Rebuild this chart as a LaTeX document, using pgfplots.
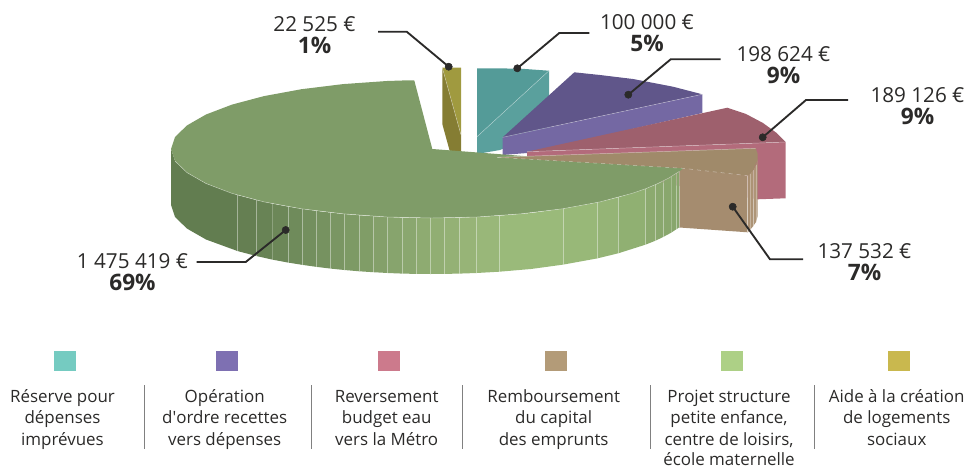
\documentclass[border=0pt]{standalone}
\usepackage{pgfplots}
\usepackage{fontspec}
\setmainfont{Open Sans}
\newfontfamily\plainf{Open Sans}
\pgfplotsset{compat=1.18}
\definecolor{txt}{HTML}{2B2A29}
\newcommand\dc[1]{\definecolor{c#1}{HTML}{#1}}
\dc{A09A3F}\dc{857D33}\dc{5AA09D}\dc{549B98}\dc{7468A3}\dc{60568A}\dc{B36B7B}\dc{9E606D}
\dc{A58C6F}\dc{A98F72}\dc{AC9375}\dc{AE9577}\dc{627D50}\dc{657F52}\dc{688355}\dc{6C8758}
\dc{6F8B5B}\dc{738F5E}\dc{769260}\dc{7A9663}\dc{7D9A65}\dc{809D67}\dc{84A06A}\dc{87A46D}
\dc{8AA76F}\dc{8EAB71}\dc{91AE73}\dc{94B175}\dc{97B477}\dc{99B779}\dc{9ABA7A}\dc{98B878}
\dc{95B476}\dc{90B072}\dc{8CAA6F}\dc{8AA86E}\dc{89A76D}\dc{88A66C}\dc{7F9C68}\dc{A08A6A}
\dc{75CBC1}\dc{7E70B2}\dc{CC7A8C}\dc{B39B78}\dc{ADD086}\dc{C9B84E}
\newcommand\pcol[2]{\addplot[fill=c#1,draw=none,mark=none,forget plot] coordinates {#2};}
\newcommand\edge[1]{\addplot[draw=white,opacity=.45,line width=.35pt,mark=none,forget plot] coordinates {#1};}
\newcommand\lead[2]{\addplot[draw=txt,line width=1.4pt,mark=none,forget plot] coordinates {#1 #2};
 \addplot[only marks,mark=*,mark size=2.7pt,mark options={fill=txt,draw=txt},forget plot] coordinates {#1};}
\newcommand\val[4]{\node[anchor=base,font=\fontsize{15.5}{18}\selectfont,text=txt] at (axis cs:#1,#2) {#3};
 \node[anchor=base,font=\fontsize{17}{18}\selectfont\bfseries,text=txt] at (axis cs:#1,#2+22) {#4};}
\newcommand\leg[3]{\node[anchor=base,font=\fontsize{12.7}{14}\selectfont,text=txt] at (axis cs:#1,#2) {#3};}
\newcommand\sep[1]{\addplot[draw=black!50,line width=.75pt,mark=none,forget plot] coordinates {(#1,385) (#1,449)};}
\begin{document}
\begin{tikzpicture}
\useasboundingbox (0,0) rectangle (726pt,351pt);
\begin{axis}[at={(0,0)},anchor=south west,width=726pt,height=351pt,scale only axis,hide axis,clip=false,
 xmin=0,xmax=968,ymin=0,ymax=468,y dir=reverse]
% gold
\pcol{A09A3F}{(442.3,67.7)(461,67.7)(461,135)}
\pcol{857D33}{(442.3,67.7)(461,135)(461,154)(450,152)(442.3,124)}
\edge{(442.3,67.7)(461,135)}
% teal
\pcol{5AA09D}{(549,70.7)(549,130)(500,150)(477,154)(477,136.7)}
\pcol{549B98}{(477,68.3)(500,68.3)(525,69)(549,70.7)(477,136.7)}
\edge{(549,70.7)(477,136.7)}
% purple
\pcol{7468A3}{(702.3,94.3)(702.3,113)(527,153)(502.7,155)(502.7,137.3)}
\pcol{60568A}{(574.3,72.3)(600,75)(633,79)(673,86.7)(702.3,94.3)(502.7,137.3)}
\edge{(702.3,94.3)(502.7,137.3)}
% red
\pcol{B36B7B}{(785.7,142)(785.7,198.3)(757.7,199.3)(700,190)(527,157)(527,151.7)}
\pcol{9E606D}{(727.3,107.7)(746,114)(763,123)(776.7,133)(785.7,142)(527,151.7)}
\edge{(785.7,142)(527,151.7)}
% brown side
\pcol{A58C6F}{(679.3,166)(747.7,175.7)(747.7,232.3)(679.3,227.5)}
\pcol{A98F72}{(747.7,175.7)(750,173.5)(750,230)(747.7,232.3)}
\pcol{AC9375}{(750,173.5)(753.3,170)(753.3,226)(750,230)}
\pcol{AE9577}{(753.3,170)(756,165)(756,222)(753.3,226)}
\pcol{AC9375}{(756,165)(757.7,159)(757.7,216)(756,222)}
\addplot[draw=white,opacity=.3,line width=.3pt,mark=none,forget plot] coordinates {(750,173.5)(750,230)};
\addplot[draw=white,opacity=.3,line width=.3pt,mark=none,forget plot] coordinates {(753.3,170)(753.3,226)};
\addplot[draw=white,opacity=.3,line width=.3pt,mark=none,forget plot] coordinates {(756,165)(756,222)};
\edge{(747.7,175.7)(747.7,232.3)}
% green side strips
\pcol{627D50}{(171,149)(175,161)(187,172.6)(206,183.5)(237.7,195.1)(237.7,251.1)(206,239.5)(187,228.6)(175,217)(171,205)}
\pcol{657F52}{(237.7,195.1)(256.7,200.1)(256.7,256.1)(237.7,251.1)}
\pcol{688355}{(256.7,200.1)(272.3,203.6)(272.3,259.6)(256.7,256.1)}
\pcol{6C8758}{(272.3,203.6)(288.3,206.6)(288.3,262.6)(272.3,259.6)}
\pcol{6F8B5B}{(288.3,206.6)(302.7,208.9)(302.7,264.9)(288.3,262.6)}
\pcol{738F5E}{(302.7,208.9)(316.7,210.9)(316.7,266.9)(302.7,264.9)}
\pcol{769260}{(316.7,210.9)(330.7,212.6)(330.7,268.6)(316.7,266.9)}
\pcol{7A9663}{(330.7,212.6)(344.3,214)(344.3,270)(330.7,268.6)}
\pcol{7D9A65}{(344.3,214)(359.3,215.3)(359.3,271.3)(344.3,270)}
\pcol{809D67}{(359.3,215.3)(373.3,216.2)(373.3,272.2)(359.3,271.3)}
\pcol{84A06A}{(373.3,216.2)(387.7,217)(387.7,273)(373.3,272.2)}
\pcol{87A46D}{(387.7,217)(402.3,217.6)(402.3,273.6)(387.7,273)}
\pcol{8AA76F}{(402.3,217.6)(416.7,217.9)(416.7,273.9)(402.3,273.6)}
\pcol{8EAB71}{(416.7,217.9)(430.7,218)(430.7,274)(416.7,273.9)}
\pcol{91AE73}{(430.7,218)(444.3,217.9)(444.3,273.9)(430.7,274)}
\pcol{94B175}{(444.3,217.9)(459.3,217.6)(459.3,273.6)(444.3,273.9)}
\pcol{97B477}{(459.3,217.6)(476.7,217)(476.7,273)(459.3,273.6)}
\pcol{99B779}{(476.7,217)(499.3,215.7)(499.3,271.7)(476.7,273)}
\pcol{9ABA7A}{(499.3,215.7)(531,213)(563.3,208.6)(563.3,264.6)(531,269)(499.3,271.7)}
\pcol{98B878}{(563.3,208.6)(597.3,202.4)(597.3,258.4)(563.3,264.6)}
\pcol{95B476}{(597.3,202.4)(618.3,197.3)(618.3,253.3)(597.3,258.4)}
\pcol{90B072}{(618.3,197.3)(645.7,188.6)(645.7,244.6)(618.3,253.3)}
\pcol{8CAA6F}{(645.7,188.6)(655.7,184.6)(655.7,240.6)(645.7,244.6)}
\pcol{8AA86E}{(655.7,184.6)(663.7,180.7)(663.7,236.7)(655.7,240.6)}
\pcol{89A76D}{(663.7,180.7)(671,176.8)(671,232.8)(663.7,236.7)}
\pcol{88A66C}{(671,176.8)(676.7,173)(676.7,229)(671,232.8)}
\pcol{88A66C}{(676.7,173)(679.3,171.4)(679.3,227.4)(676.7,229)}
\foreach \xa/\ya in {237.7/195.1,256.7/200.1,288.3/206.6,302.7/208.9,316.7/210.9,330.7/212.6,344.3/214,359.3/215.3,373.3/216.2,387.7/217,402.3/217.6,416.7/217.9,430.7/218,444.3/217.9,459.3/217.6,476.7/217,499.3/215.7,563.3/208.6,597.3/202.4,618.3/197.3,645.7/188.6,655.7/184.6,663.7/180.7,671/176.8,676.7/173,679.3/171.4}{
 \edef\tmp{\noexpand\addplot[draw=white,opacity=.25,line width=.35pt,mark=none,forget plot] coordinates {(\xa,\ya)(\xa,\ya+56)};}\tmp
}
% green top
\pcol{7F9C68}{(414.3,80.5)(405,80.4)(387,81)(343,84.1)(301.5,89.2)(264,96.1)(232,104.6)(206,114.5)(187,125.4)(175,137)(171,149)(175,161)(187,172.6)(206,183.5)(232,193.4)(264,201.9)(301.5,208.8)(343,213.8)(387,217)(432,218)(477,217)(521,213.8)(562.5,208.8)(600,201.9)(632,193.4)(646,188.6)(658,183.5)(668.5,178.2)(679.3,171.4)(683.3,168.3)(432.3,149)}
\addplot[draw=white,opacity=.5,line width=.35pt,mark=none,forget plot] coordinates {(175,161)(187,172.6)(206,183.5)(232,193.4)(264,201.9)(301.5,208.8)(343,213.8)(387,217)(432,218)(477,217)(521,213.8)(562.5,208.8)(600,201.9)(632,193.4)(646,188.6)(658,183.5)(668.5,178.2)(679.3,171.4)};
% brown top
\pcol{A08A6A}{(497.3,157.3)(755.7,148.3)(757.7,154)(757.5,160)(753.3,170)(747.7,175.7)(683.3,168.3)}
\addplot[draw=white,opacity=.5,line width=.35pt,mark=none,forget plot] coordinates {(497.3,157.3)(755.7,148.3)};
\addplot[draw=white,opacity=.5,line width=.35pt,dashed,mark=none,forget plot] coordinates {(497.3,157.3)(683.3,168.3)(747.7,175.7)};
% leaders
\lead{(448.7,66.7)}{(406.7,31.7)(378,31.7)}
\lead{(517.3,68.3)}{(559.3,33)(589.3,33)}
\lead{(628.3,94.7)}{(670.7,59.3)(720.7,59.3)}
\lead{(762.7,137.3)}{(806,100)(848,100)}
\lead{(732.7,206.7)}{(770,259.3)(803,259.3)}
\lead{(285.7,230)}{(245.7,262)(196.7,262)}
% values
\val{314.5}{31.5}{22 525 €}{1\%}
\val{647}{29.5}{100 000 €}{5\%}
\val{783.5}{61.5}{198 624 €}{9\%}
\val{917.5}{102.5}{189 126 €}{9\%}
\val{864.5}{258.5}{137 532 €}{7\%}
\val{132.5}{268.5}{1 475 419 €}{69\%}
% swatches
\pcol{75CBC1}{(54,351)(76,351)(76,371)(54,371)}
\pcol{7E70B2}{(216,351)(238,351)(238,371)(216,371)}
\pcol{CC7A8C}{(378,351)(400,351)(400,371)(378,371)}
\pcol{B39B78}{(545,351)(567,351)(567,371)(545,371)}
\pcol{ADD086}{(721,351)(743,351)(743,371)(721,371)}
\pcol{C9B84E}{(888,351)(910,351)(910,371)(888,371)}
\sep{144.3}\sep{311.7}\sep{462.3}\sep{650.3}\sep{814}
\leg{62.5}{402}{Réserve pour}\leg{62.5}{423.5}{dépenses}\leg{62.5}{445}{imprévues}
\leg{224.7}{402}{Opération}\leg{224.7}{423.5}{d{\plainf'}ordre recettes}\leg{224.7}{445}{vers dépenses}
\leg{386.7}{402}{Reversement}\leg{386.7}{423.5}{budget eau}\leg{386.7}{445}{vers la Métro}
\leg{553.7}{402}{Remboursement}\leg{553.7}{423.5}{du capital}\leg{553.7}{445}{des emprunts}
\leg{729}{402}{Projet structure}\leg{729}{423.5}{petite enfance,}\leg{729}{445}{centre de loisirs,}\leg{729}{465}{école maternelle}
\leg{896.7}{402}{Aide à la création}\leg{896.7}{423.5}{de logements}\leg{896.7}{445}{sociaux}
\end{axis}
\end{tikzpicture}
\end{document}
